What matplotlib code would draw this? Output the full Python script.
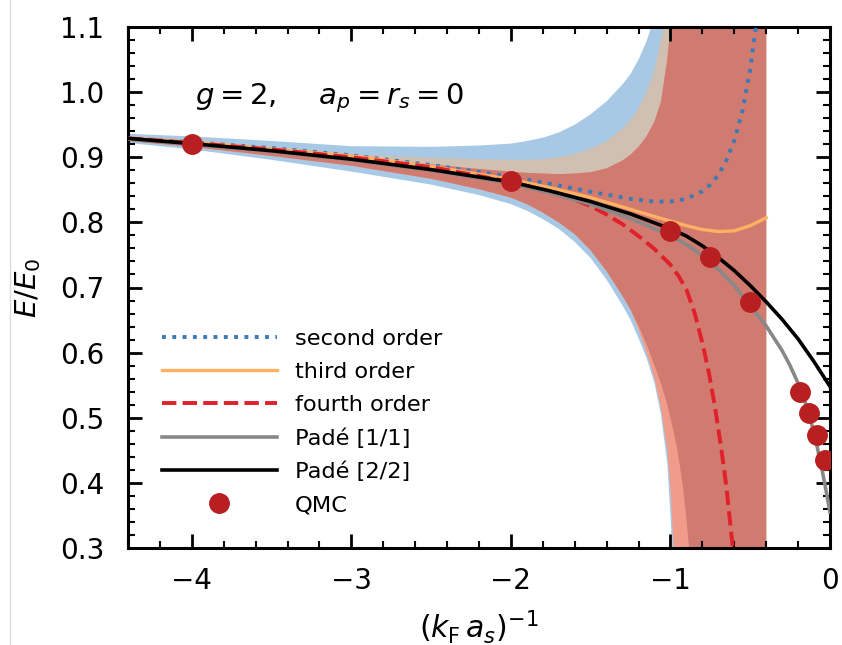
import matplotlib
matplotlib.use("Agg")
import matplotlib.pyplot as plt
from matplotlib.lines import Line2D
from matplotlib.ticker import MultipleLocator

# second order (dotted)
x2 = [-4.4, -4.0, -3.5, -3.0, -2.5, -2.0, -1.75, -1.5, -1.25, -1.1, -1.0,
      -0.9, -0.8, -0.75, -0.7, -0.65, -0.6, -0.55, -0.5, -0.46, -0.44]
y2 = [0.929, 0.923, 0.914, 0.903, 0.888, 0.870, 0.859, 0.847, 0.836, 0.832, 0.832,
      0.836, 0.848, 0.858, 0.873, 0.895, 0.926, 0.970, 1.035, 1.108, 1.155]

# third order
x3 = [-4.4, -4.0, -3.0, -2.5, -2.0, -1.75, -1.5, -1.25, -1.1, -1.0,
      -0.9, -0.8, -0.7, -0.6, -0.5, -0.45, -0.4]
y3 = [0.929, 0.923, 0.902, 0.886, 0.866, 0.853, 0.838, 0.820, 0.809, 0.802,
      0.795, 0.789, 0.786, 0.787, 0.795, 0.801, 0.807]

# fourth order
x4 = [-4.4, -4.0, -3.5, -3.0, -2.5, -2.0, -1.8, -1.6, -1.5, -1.4, -1.3, -1.2,
      -1.1, -1.0, -0.95, -0.9, -0.85, -0.8, -0.76, -0.72, -0.68, -0.65, -0.62, -0.6]
y4 = [0.929, 0.922, 0.912, 0.900, 0.885, 0.862, 0.850, 0.835, 0.825, 0.812, 0.797, 0.779,
      0.759, 0.735, 0.718, 0.697, 0.662, 0.615, 0.570, 0.515, 0.450, 0.395, 0.325, 0.280]

# Pade [1/1]
xp11 = [-4.4, -4.0, -3.5, -3.0, -2.5, -2.0, -1.75, -1.5, -1.25, -1.0, -0.9, -0.8,
        -0.7, -0.6, -0.5, -0.4, -0.3, -0.25, -0.2, -0.15, -0.1, -0.08, -0.05, -0.03, 0.0]
yp11 = [0.928, 0.920, 0.909, 0.896, 0.880, 0.860, 0.845, 0.828, 0.806, 0.780, 0.766, 0.749,
        0.728, 0.703, 0.672, 0.641, 0.603, 0.580, 0.553, 0.520, 0.478, 0.455, 0.420, 0.395, 0.355]

# Pade [2/2]
xp22 = [-4.4, -4.0, -3.5, -3.0, -2.5, -2.0, -1.75, -1.5, -1.25, -1.0, -0.9, -0.8,
        -0.7, -0.6, -0.5, -0.4, -0.3, -0.2, -0.1, 0.0]
yp22 = [0.929, 0.921, 0.910, 0.897, 0.881, 0.862, 0.848, 0.832, 0.813, 0.790, 0.779, 0.764,
        0.746, 0.726, 0.703, 0.678, 0.651, 0.621, 0.586, 0.548]

# QMC
x_qmc = [-4.0, -2.0, -1.0, -0.75, -0.5, -0.19, -0.13, -0.08, -0.03]
y_qmc = [0.920, 0.864, 0.787, 0.747, 0.678, 0.540, 0.507, 0.473, 0.435]

# uncertainty bands
band_x = [-4.4, -4.0, -3.5, -3.0, -2.5, -2.2, -2.0, -1.9, -1.8, -1.7, -1.6, -1.5,
          -1.4, -1.3, -1.25, -1.2, -1.15, -1.1, -1.06, -1.02, -1.0, -0.98, -0.96,
          -0.94, -0.92, -0.9, -0.88, -0.86, -0.4]
blue_hi = [0.936, 0.932, 0.925, 0.917, 0.916, 0.918, 0.921, 0.925, 0.930, 0.938, 0.950, 0.966,
           0.986, 1.012, 1.028, 1.050, 1.078, 1.115, 1.160, 1.5, 1.5, 1.5, 1.5,
           1.5, 1.5, 1.5, 1.5, 1.5, 1.5]
blue_lo = [0.922, 0.912, 0.896, 0.878, 0.858, 0.842, 0.828, 0.818, 0.805, 0.790, 0.770, 0.745,
           0.712, 0.672, 0.650, 0.622, 0.592, 0.553, 0.505, 0.430, 0.350, 0.250, 0.1,
           0.1, 0.1, 0.1, 0.1, 0.1, 0.1]
tan_hi = [0.933, 0.927, 0.916, 0.905, 0.899, 0.897, 0.896, 0.896, 0.897, 0.900, 0.905, 0.913,
          0.925, 0.944, 0.957, 0.975, 1.000, 1.035, 1.080, 1.130, 1.200, 1.5, 1.5,
          1.5, 1.5, 1.5, 1.5, 1.5, 1.5]
red_hi = [0.931, 0.924, 0.913, 0.900, 0.889, 0.882, 0.878, 0.876, 0.875, 0.874, 0.875, 0.877,
          0.883, 0.895, 0.904, 0.916, 0.932, 0.955, 0.985, 1.050, 1.100, 1.150, 1.5,
          1.5, 1.5, 1.5, 1.5, 1.5, 1.5]
red_lo = [0.925, 0.916, 0.902, 0.887, 0.867, 0.851, 0.838, 0.828, 0.815, 0.800, 0.782, 0.757,
          0.725, 0.687, 0.666, 0.641, 0.613, 0.580, 0.553, 0.520, 0.500, 0.478, 0.455,
          0.425, 0.390, 0.345, 0.290, 0.220, 0.1]
salmon_lo = [0.925, 0.916, 0.902, 0.887, 0.867, 0.851, 0.838, 0.828, 0.815, 0.800, 0.782, 0.757,
             0.725, 0.687, 0.666, 0.635, 0.600, 0.560, 0.515, 0.450, 0.390, 0.300, 0.220,
             0.1, 0.1, 0.1, 0.1, 0.1, 0.1]

fig = plt.figure(figsize=(8.42, 6.45), dpi=100)
ax = fig.add_axes([128 / 842, 1 - 548 / 645, 702 / 842, 521 / 645])

# thin grey border line at the left of the screenshot
fig.add_artist(Line2D([10 / 842, 10 / 842], [0, 1], color='#dcdcdc', lw=1))

ax.fill_between(band_x, blue_lo, blue_hi, color='#a8c9e5', lw=0, zorder=1)
ax.fill_between(band_x, red_lo, tan_hi, color='#cfc0b1', lw=0, zorder=1.1)
ax.fill_between(band_x, salmon_lo, red_hi, color='#ef9c8a', lw=0, zorder=1.2)
ax.fill_between(band_x, red_lo, red_hi, color='#d17a70', lw=0, zorder=1.3)

ax.plot(x2, y2, ls=':', color='#3a7ab8', lw=2.8, label='second order', zorder=3)
ax.plot(x3, y3, ls='-', color='#ffb062', lw=2.4, label='third order', zorder=3)
ax.plot(x4, y4, ls='--', color='#e0202a', lw=2.8, label='fourth order', zorder=3)
ax.plot(xp11, yp11, ls='-', color='#888888', lw=2.6, label='Padé [1/1]', zorder=3)
ax.plot(xp22, yp22, ls='-', color='black', lw=2.6, label='Padé [2/2]', zorder=3)
ax.plot(x_qmc, y_qmc, ls='none', marker='o', ms=14, color='#b81f20',
        label='QMC', zorder=4)

ax.set_xlim(-4.4, 0)
ax.set_ylim(0.3, 1.1)
ax.xaxis.set_major_locator(MultipleLocator(1))
ax.xaxis.set_minor_locator(MultipleLocator(0.2))
ax.yaxis.set_major_locator(MultipleLocator(0.1))
ax.yaxis.set_minor_locator(MultipleLocator(0.02))
ax.tick_params(which='both', direction='in', top=True, right=True, labelsize=20)
ax.tick_params(axis='x', which='both', pad=14)
ax.tick_params(axis='y', which='both', pad=17)
ax.tick_params(which='major', length=10, width=2)
ax.tick_params(which='minor', length=5, width=1.5)
for s in ax.spines.values():
    s.set_linewidth(2.2)

ax.set_xlabel(r'$(k_\mathrm{F}\,a_s)^{-1}$', fontsize=21.5, labelpad=9)
ax.set_ylabel(r'$E/E_0$', fontsize=21, labelpad=12)

ax.text(0.095, 0.864, r'$g=2,\quad\; a_p=r_s=0$', transform=ax.transAxes,
        fontsize=21, va='center', ha='left')

ax.legend(loc='upper left', bbox_to_anchor=(0.0356, 0.437), frameon=False,
          fontsize=16.2, handlelength=5.1, handletextpad=0.8, numpoints=1,
          labelspacing=0.575, borderaxespad=0)

fig.savefig('out.png', dpi=100)
